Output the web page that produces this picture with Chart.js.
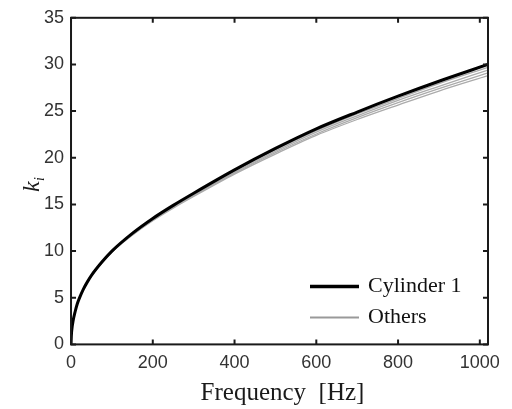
<!DOCTYPE html>
<html>
<head>
<meta charset="utf-8">
<script src="https://cdn.jsdelivr.net/npm/chart.js@4/dist/chart.umd.min.js"></script>
<style>
    html, body { margin: 0; padding: 0; background: #fff; }
    #wrap { width: 512px; height: 409px; }
</style>
</head>
<body>
<div id="wrap"><canvas id="chart-k"></canvas></div>
<script>
// ── Données ─────────────────────────────────────────────────────────────
const freq    = [0, 1, 2, 5, 10, 15, 20, 30, 40, 50, 75, 100, 150, 200, 250, 300, 400, 500, 600, 700, 800, 900, 1020]
const cyl1    = [0, 1.1, 1.6, 2.5, 3.5, 4.3, 4.9, 5.9, 6.7, 7.4, 8.8, 10.0, 11.9, 13.5, 14.9, 16.2, 18.7, 21.0, 23.1, 24.9, 26.6, 28.2, 30.0]
const other1  = [0, 1.1, 1.6, 2.5, 3.5, 4.3, 4.9, 5.9, 6.7, 7.4, 8.8, 10.0, 11.9, 13.4, 14.8, 16.1, 18.6, 20.85, 22.9, 24.7, 26.35, 27.95, 29.7]
const other2  = [0, 1.1, 1.6, 2.5, 3.5, 4.3, 4.9, 5.9, 6.7, 7.4, 8.75, 9.95, 11.8, 13.4, 14.75, 16.0, 18.45, 20.7, 22.75, 24.5, 26.15, 27.65, 29.4]
const other3  = [0, 1.1, 1.6, 2.5, 3.5, 4.3, 4.9, 5.9, 6.7, 7.35, 8.75, 9.9, 11.75, 13.3, 14.7, 15.95, 18.35, 20.55, 22.55, 24.3, 25.9, 27.4, 29.1]
const other4  = [0, 1.1, 1.6, 2.5, 3.5, 4.3, 4.85, 5.85, 6.65, 7.35, 8.7, 9.9, 11.7, 13.25, 14.6, 15.85, 18.25, 20.4, 22.4, 24.1, 25.65, 27.15, 28.8]
const others  = [other1, other2, other3, other4]

const xTicks  = [0, 200, 400, 600, 800, 1000]
const yTicks  = [0, 5, 10, 15, 20, 25, 30, 35]
const labels  = ['Cylinder 1', 'Others']

// ── Styles ──────────────────────────────────────────────────────────────
const ink    = '#1a1a1a'
const gray   = '#ababab'
const serif  = '"Liberation Serif", "Times New Roman", serif'
const sans   = '"Liberation Sans", Arial, sans-serif'

const pts = arr => arr.map((v, i) => ({ x: freq[i], y: v }))

const line = (label, data, color, width) => ({
    label,
    data: pts(data),
    borderColor: color,
    borderWidth: width,
    pointRadius: 0,
    cubicInterpolationMode: 'monotone',
    fill: false,
})

const datasets = [
    line(labels[0], cyl1, '#000', 3),
    ...others.map(o => line(labels[1], o, gray, 1.3)),
]

// ── Cadre, ticks intérieurs, titres et légende ──────────────────────────
const frame = {
    id: 'frame',
    afterDraw(chart) {
        const { ctx, chartArea: a, scales: { x, y } } = chart
        ctx.save()
        ctx.strokeStyle = ink
        ctx.lineWidth = 2
        ctx.strokeRect(a.left, a.top, a.right - a.left, a.bottom - a.top)

        const len = 5
        ctx.beginPath()
        xTicks.forEach(v => {
            const px = x.getPixelForValue(v)
            ctx.moveTo(px, a.bottom); ctx.lineTo(px, a.bottom - len)
            ctx.moveTo(px, a.top);    ctx.lineTo(px, a.top + len)
        })
        yTicks.forEach(v => {
            const py = y.getPixelForValue(v)
            ctx.moveTo(a.left, py);  ctx.lineTo(a.left + len, py)
            ctx.moveTo(a.right, py); ctx.lineTo(a.right - len, py)
        })
        ctx.stroke()

        // titre axe x
        ctx.fillStyle = ink
        ctx.font = `25px ${serif}`
        ctx.textAlign = 'center'
        ctx.textBaseline = 'alphabetic'
        ctx.fillText('Frequency  [Hz]', (a.left + a.right) / 2 + 3, 400)

        // titre axe y : k indice i
        ctx.save()
        ctx.translate(39, (a.top + a.bottom) / 2 + 3)
        ctx.rotate(-Math.PI / 2)
        ctx.textAlign = 'left'
        ctx.font = `italic 24px ${serif}`
        ctx.fillText('k', -8, 0)
        ctx.font = `italic 14px ${serif}`
        ctx.fillText('i', 3, 5)
        ctx.restore()

        // légende
        const lx = a.right - 178, ly = a.bottom - 58
        ctx.lineWidth = 3.5
        ctx.strokeStyle = '#000'
        ctx.beginPath(); ctx.moveTo(lx, ly); ctx.lineTo(lx + 49, ly); ctx.stroke()
        ctx.lineWidth = 2
        ctx.strokeStyle = '#999'
        ctx.beginPath(); ctx.moveTo(lx, ly + 31); ctx.lineTo(lx + 49, ly + 31); ctx.stroke()

        ctx.font = `22px ${serif}`
        ctx.textAlign = 'left'
        ctx.textBaseline = 'middle'
        ctx.fillStyle = '#111'
        ctx.fillText(labels[0], lx + 58, ly)
        ctx.fillText(labels[1], lx + 58, ly + 31)
        ctx.restore()
    }
}

// ── Graphique ───────────────────────────────────────────────────────────
const tick = { color: '#333', font: { size: 18, family: sans }, callback: v => String(v) }

new Chart(document.getElementById('chart-k'), {
    type: 'line',
    data: { datasets },
    plugins: [frame],
    options: {
        responsive: true,
        maintainAspectRatio: false,
        animation: false,
        layout: { padding: { left: 37, right: 24, top: 11, bottom: 27 } },
        plugins: { legend: { display: false }, tooltip: { enabled: false } },
        scales: {
            x: {
                type: 'linear',
                min: 0, max: 1020,
                grid: { display: false, drawTicks: false },
                border: { display: false },
                ticks: { ...tick, padding: 8, stepSize: 200, includeBounds: false, maxRotation: 0 },
                afterBuildTicks: s => { s.ticks = xTicks.map(v => ({ value: v })) },
            },
            y: {
                min: 0, max: 35,
                grid: { display: false, drawTicks: false },
                border: { display: false },
                ticks: { ...tick, padding: 7, stepSize: 5 },
                afterBuildTicks: s => { s.ticks = yTicks.map(v => ({ value: v })) },
            },
        },
    },
})
</script>
</body>
</html>
